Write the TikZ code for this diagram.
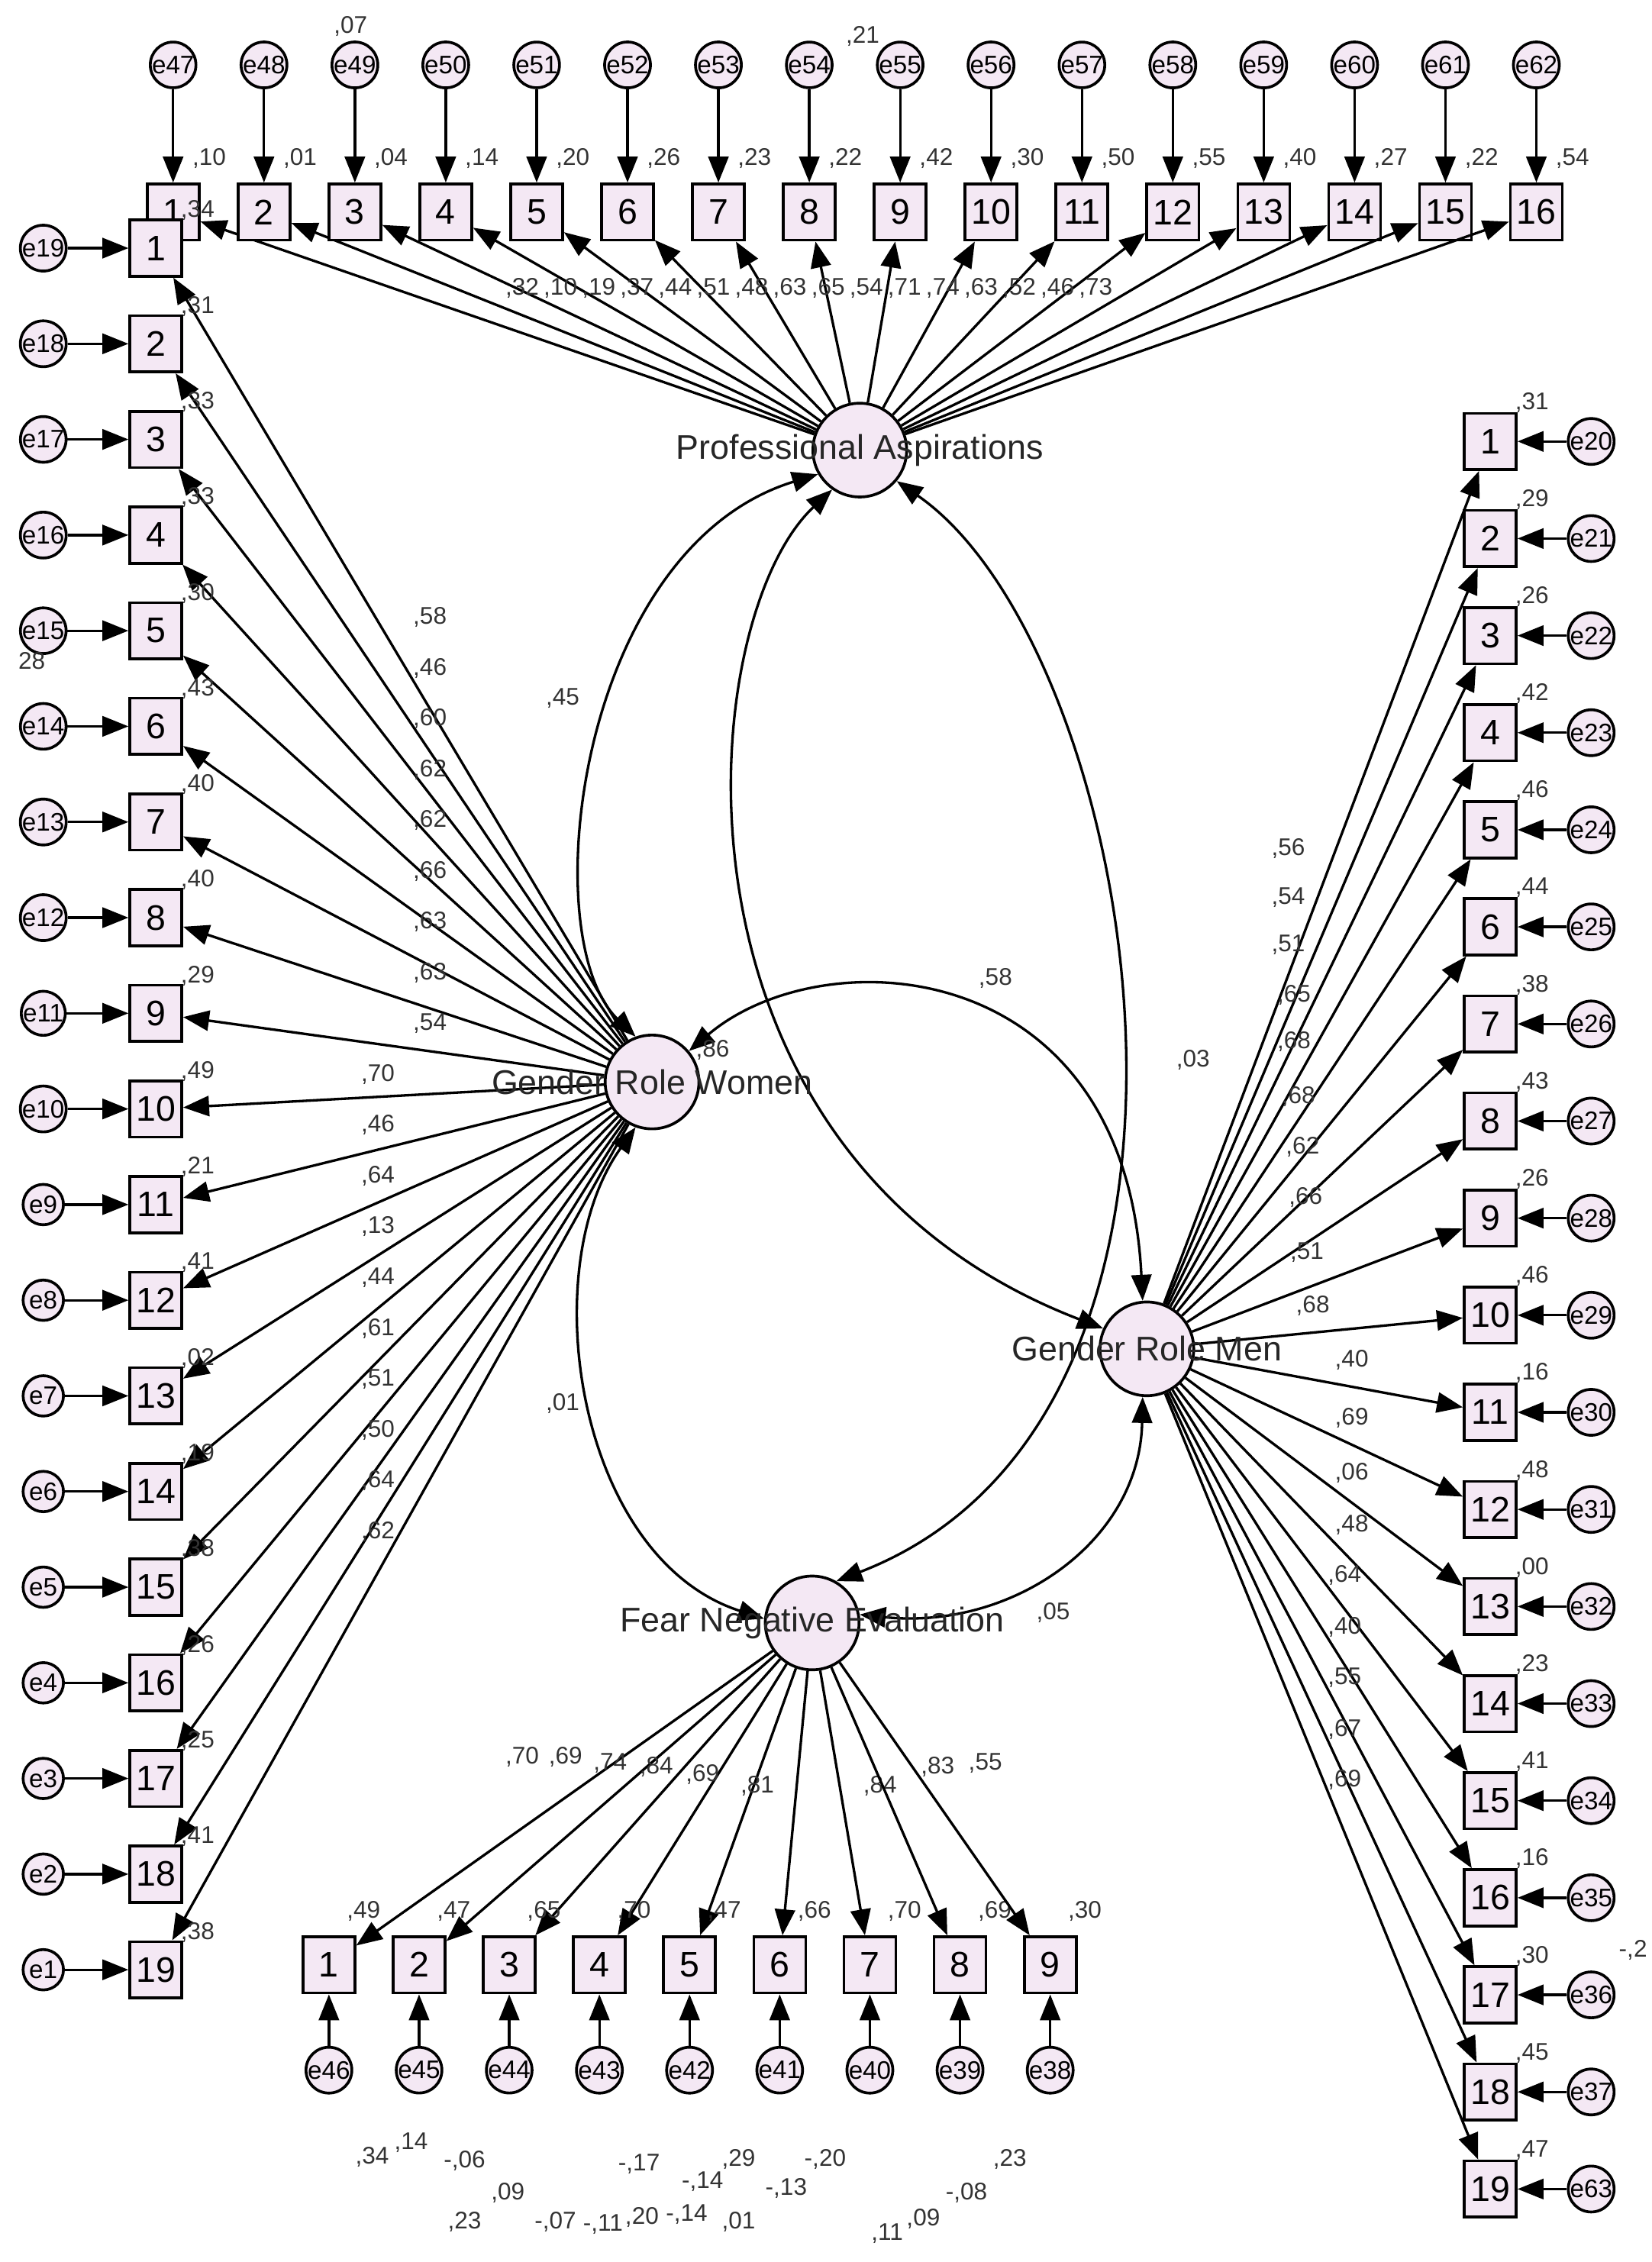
\documentclass[tikz,border=0pt]{standalone}
\usepackage{fontspec}
\setmainfont{Liberation Sans}
\usetikzlibrary{arrows.meta}

\tikzset{
  obs/.style={rectangle, draw, line width=1.1pt, fill=violet!9, minimum width=0.72cm, minimum height=0.78cm, inner sep=0pt, font=\fontsize{14}{14}\selectfont},
  err/.style={circle, draw, line width=1.1pt, fill=violet!9, minimum size=0.56cm, inner sep=0pt, font=\fontsize{10}{10}\selectfont},
  lat/.style={circle, draw, line width=1.1pt, fill=violet!9, minimum size=1.3cm, inner sep=0pt},
  latxt/.style={font=\fontsize{13.5}{13.5}\selectfont, text=black!85},
  num/.style={font=\fontsize{9.5}{9.5}\selectfont, inner sep=0pt, text=black!80},
  arr/.style={line width=1pt, -{Triangle[length=3.6mm,width=2.8mm]}},
  cov/.style={line width=1pt, {Triangle[length=3.6mm,width=2.8mm]}-{Triangle[length=3.6mm,width=2.8mm]}},
}

\begin{document}
\begin{tikzpicture}[x=0.02cm, y=-0.02cm]
  \useasboundingbox (0,0) rectangle (1145,1568);

  % latent variables
  \node[lat] (pa) at (596,312) {};
  \node[lat] (grw) at (452,750) {};
  \node[lat] (grm) at (795,935) {};
  \node[lat] (fne) at (563,1125) {};

  % top indicators
  \foreach \i/\e/\r in {1/47/10,2/48/01,3/49/04,4/50/14,5/51/20,6/52/26,7/53/23,8/54/22,
                        9/55/42,10/56/30,11/57/50,12/58/55,13/59/40,14/60/27,15/61/22,16/62/54} {
    \node[obs] (t\i) at ({120+63*(\i-1)},147) {\i};
    \node[err] (et\i) at ({120+63*(\i-1)},45) {e\e};
    \draw[arr] (et\i) -- (t\i);
    \draw[arr] (pa) -- (t\i);
    \node[num] at ({145+63*(\i-1)},110) {,\r};
  }
  \foreach \l [count=\k] in {32,10,19,37,44,51,48,63,65,54,71,74,63,52,46,73}
    \node[num] at ({362+26.5*(\k-1)},200) {,\l};
  \node[num] at (243,18) {,07};
  \node[num] at (598,25) {,21};

  % left indicators (gender role women)
  \foreach \i/\e/\r/\l in {1/19/34/58,2/18/31/46,3/17/33/60,4/16/33/62,5/15/30/62,6/14/43/66,
                           7/13/40/63,8/12/40/63,9/11/29/54,10/10/49/70,11/9/21/46,12/8/41/64,
                           13/7/02/13,14/6/19/44,15/5/38/61,16/4/26/51,17/3/25/50,18/2/41/64,19/1/38/62} {
    \node[obs] (l\i) at (108,{172+66.3*(\i-1)}) {\i};
    \node[err] (el\i) at (30,{172+66.3*(\i-1)}) {e\e};
    \draw[arr] (el\i) -- (l\i);
    \draw[arr] (grw) -- (l\i);
    \node[num] at (137,{172+66.3*(\i-1)-26}) {,\r};
    \node[num] at ({\i<10?298:262},{428+35.2*(\i-1)}) {,\l};
  }
  \node[num] at (22,458) {28};

  % right indicators (gender role men)
  \foreach \i/\e/\r/\l/\lx/\ly in {1/20/31/56/893/588,2/21/29/54/893/622,3/22/26/51/893/655,
      4/23/42/65/897/690,5/24/46/68/897/722,6/25/44/68/900/760,7/26/38/62/903/795,
      8/27/43/66/905/830,9/28/26/51/906/868,10/29/46/68/910/905,11/30/16/40/937/943,
      12/31/48/69/937/983,13/32/00/06/937/1021,14/33/23/48/937/1057,15/34/41/64/932/1092,
      16/35/16/40/932/1128,17/36/30/55/932/1163,18/37/45/67/932/1199,19/63/47/69/932/1234} {
    \node[obs] (r\i) at (1033,{306+67.3*(\i-1)}) {\i};
    \node[err] (er\i) at (1103,{306+67.3*(\i-1)}) {e\e};
    \draw[arr] (er\i) -- (r\i);
    \draw[arr] (grm) -- (r\i);
    \node[num] at (1062,{306+67.3*(\i-1)-27}) {,\r};
    \node[num] at (\lx,\ly) {,\l};
  }
  \node[num] at (1132,1352) {-,2};

  % bottom indicators (fear negative evaluation)
  \foreach \i/\e/\r/\l/\lx/\ly in {1/46/49/70/362/1218,2/45/47/69/392/1218,3/44/65/74/423/1222,
      4/43/70/84/455/1225,5/42/47/69/487/1230,6/41/66/81/525/1238,7/40/70/84/610/1238,
      8/39/69/83/650/1225,9/38/30/55/683/1222} {
    \node[obs] (b\i) at ({228+62.5*(\i-1)},1362) {\i};
    \node[err] (eb\i) at ({228+62.5*(\i-1)},1435) {e\e};
    \draw[arr] (eb\i) -- (b\i);
    \draw[arr] (fne) -- (b\i);
    \node[num] at ({252+62.5*(\i-1)},1325) {,\r};
    \node[num] at (\lx,\ly) {,\l};
  }

  % covariances
  \draw[cov] (pa.210) .. controls (400,380) and (370,650) .. (grw.110);
  \draw[cov] (pa.235) .. controls (480,430) and (450,800) .. (grm.155);
  \draw[cov] (pa.320) .. controls (790,450) and (880,980) .. (fne.60);
  \draw[cov] (grw.40) .. controls (570,650) and (780,660) .. (grm.95);
  \draw[cov] (grw.250) .. controls (370,880) and (400,1080) .. (fne.175);
  \draw[cov] (fne.10) .. controls (700,1130) and (790,1070) .. (grm.265);
  \node[num] at (390,484) {,45};
  \node[num] at (690,678) {,58};
  \node[num] at (827,735) {,03};
  \node[num] at (494,728) {,86};
  \node[num] at (390,973) {,01};
  \node[num] at (730,1118) {,05};

  % latent labels
  \node[latxt] at (pa) {Professional Aspirations};
  \node[latxt] at (grw) {Gender Role Women};
  \node[latxt] at (grm) {Gender Role Men};
  \node[latxt] at (fne) {Fear Negative Evaluation};

  % residual covariance values
  \foreach \v/\x/\y in {34/258/1495,14/285/1485,09/352/1520,23/322/1540,20/445/1537,
      01/512/1540,29/512/1497,11/615/1548,09/640/1538,23/700/1497}
    \node[num] at (\x,\y) {,\v};
  \foreach \v/\x/\y in {06/322/1498,07/385/1540,11/418/1542,14/476/1535,17/443/1500,
      14/487/1512,13/545/1517,20/572/1497,08/670/1520}
    \node[num] at (\x,\y) {-,\v};
\end{tikzpicture}
\end{document}
